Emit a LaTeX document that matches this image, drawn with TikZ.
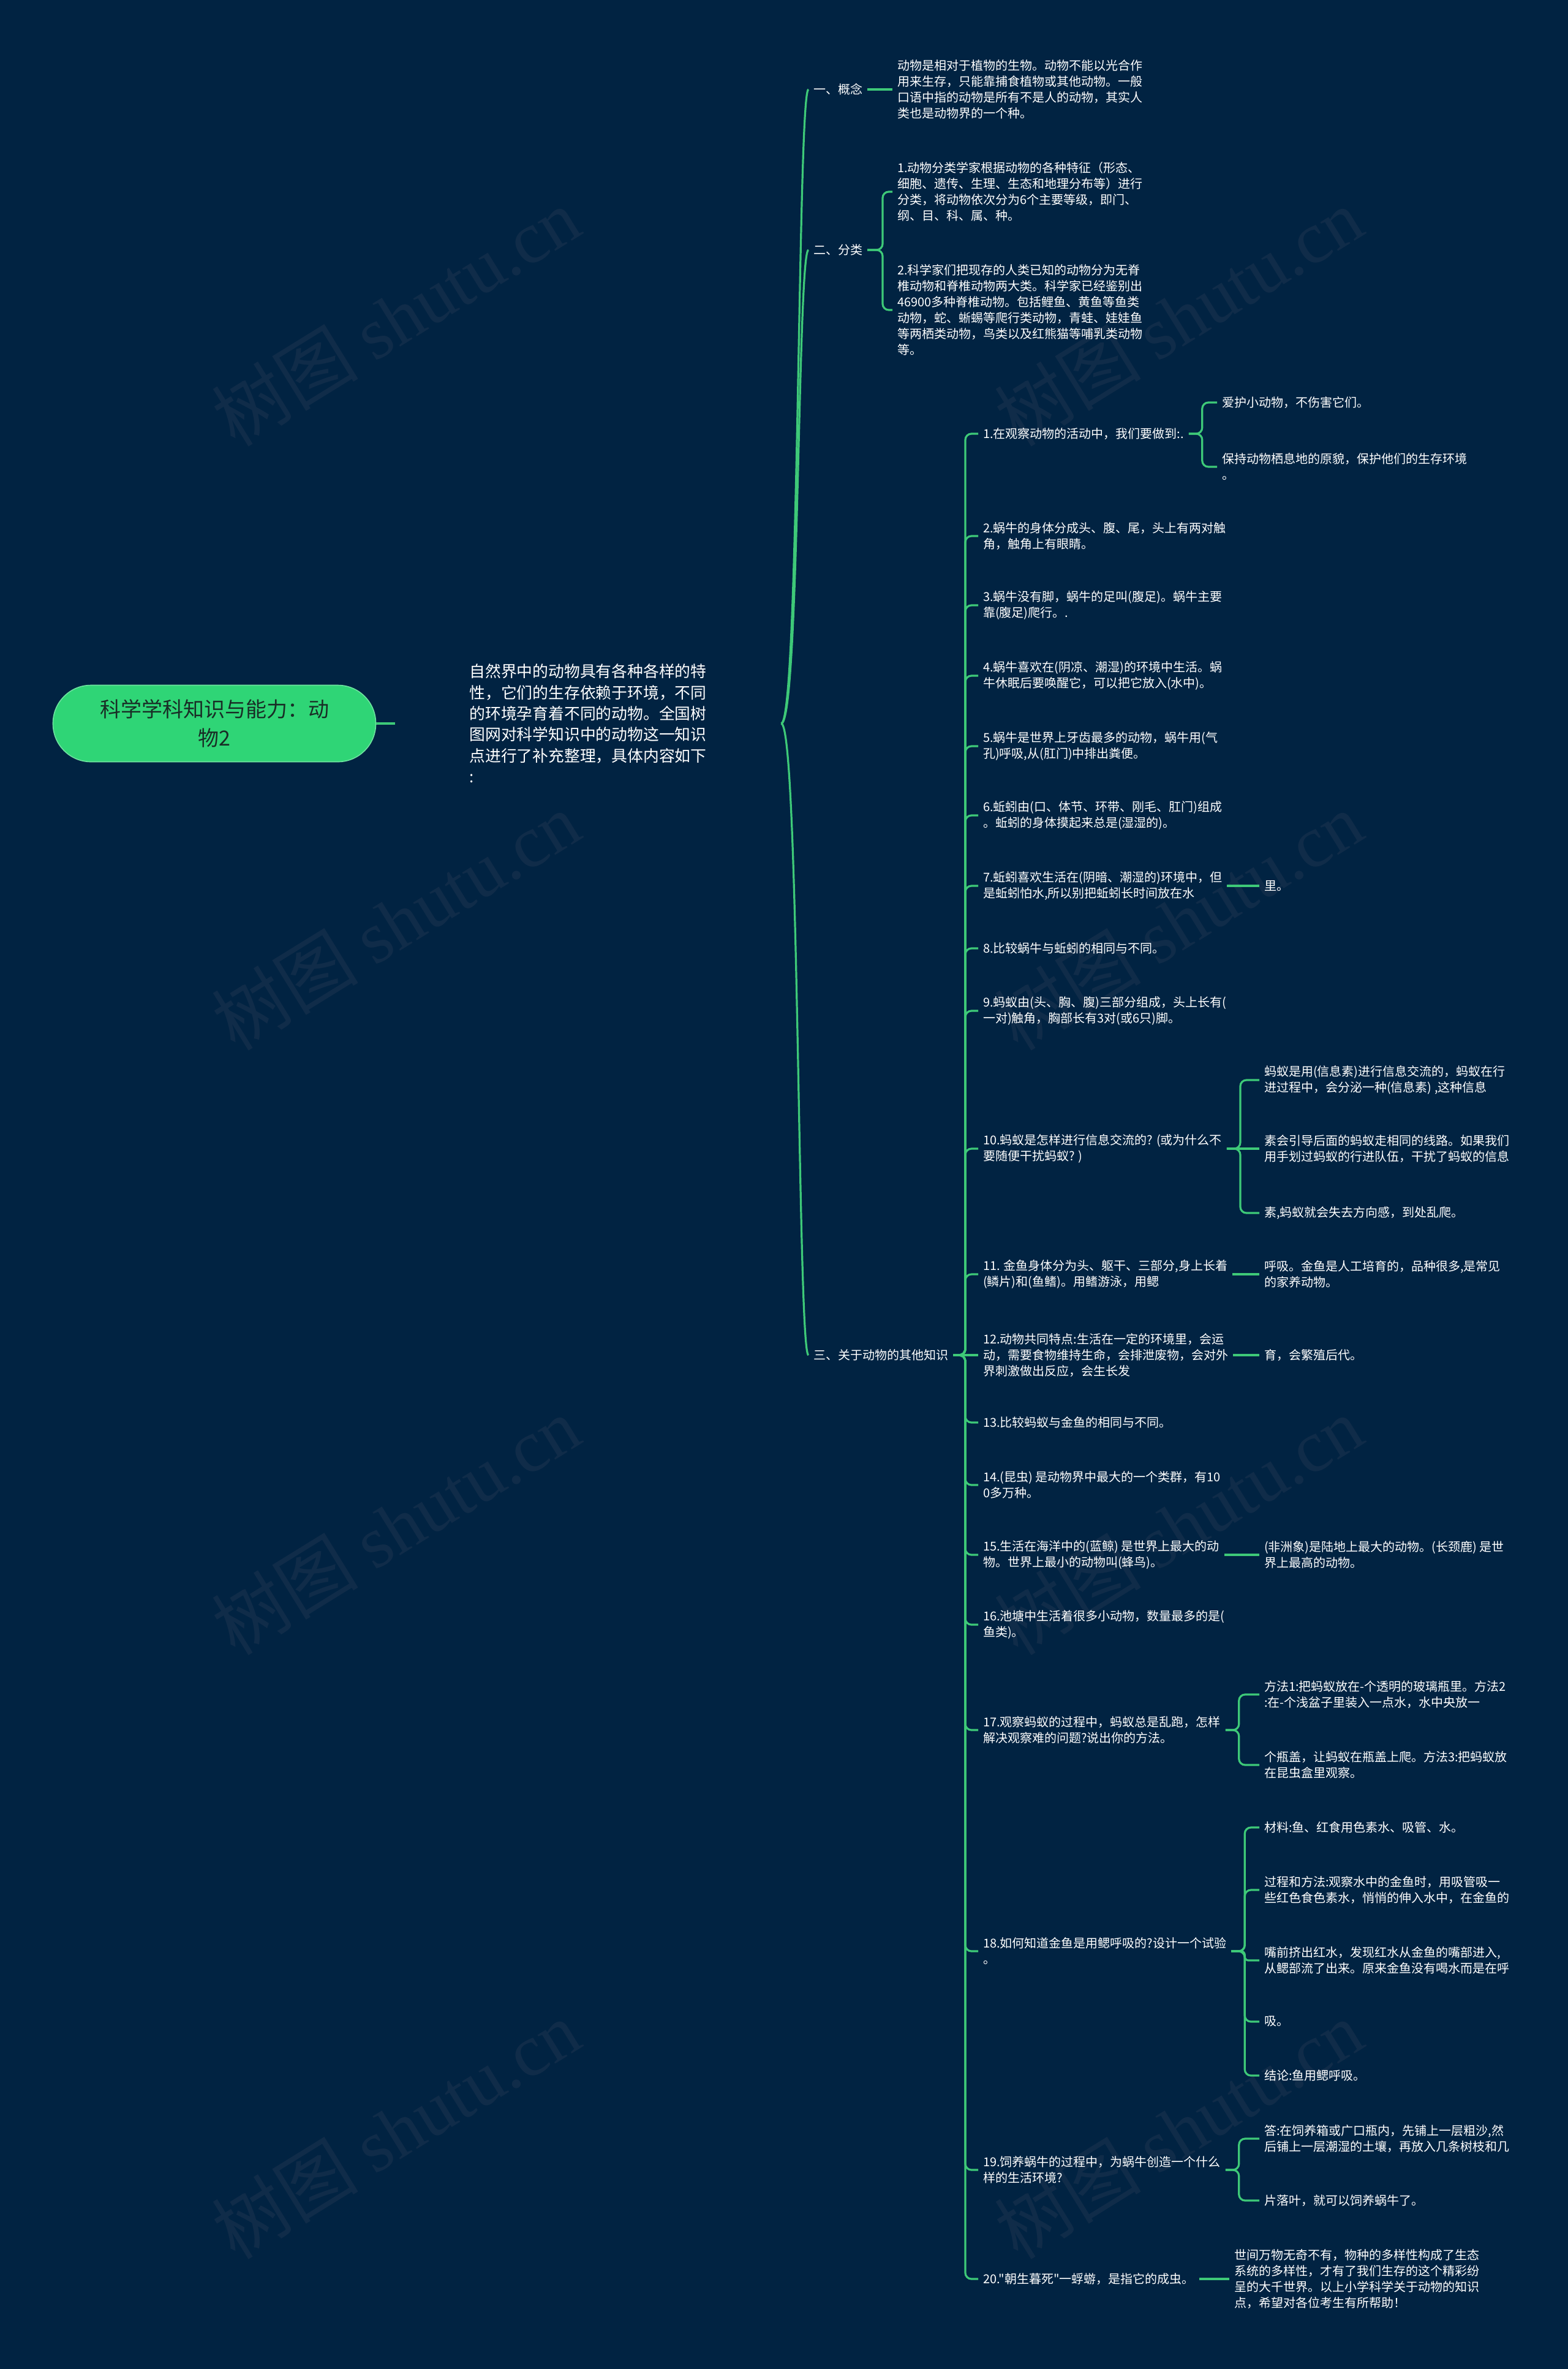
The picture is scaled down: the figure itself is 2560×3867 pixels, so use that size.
\documentclass[tikz,border=0pt]{standalone}
\usepackage{fontspec}
\setmainfont{Noto Sans CJK SC}
\newfontfamily\plaincjk{Noto Sans CJK SC}
\newfontfamily\wmlatin{Liberation Serif}
\usetikzlibrary{positioning}

\definecolor{bgnavy}{RGB}{1,35,66}
\definecolor{linkgreen}{RGB}{62,201,120}
\definecolor{rootgreen}{RGB}{47,213,118}
\definecolor{roottext}{RGB}{25,45,38}
\definecolor{wmark}{RGB}{16,44,73}

\begin{document}
\begin{tikzpicture}[x=0.5pt, y=-0.5pt,
        root/.style={draw=rootgreen!70!white, fill=rootgreen, line width=0.8pt, rounded corners=31pt, minimum width=263.5pt, minimum height=62.5pt, align=center, text=roottext, font=\fontsize{17}{23.5}\selectfont},
        intro/.style={align=left, text=white, inner sep=0pt, minimum width=315pt, font=\fontsize{12.9}{17.2}\selectfont},
        txt/.style={anchor=west, inner sep=0pt, outer xsep=4pt, align=left, text=white, font=\fontsize{10}{13}\selectfont},
        link/.style={draw=linkgreen, line width=1.6pt, rounded corners=5pt},
        wm/.style={rotate=31.7, text=wmark, font=\fontsize{60}{60}\selectfont}
    ]
        \useasboundingbox (0,0) rectangle (2560,3867);
        \fill[bgnavy] (0,0) rectangle (2560,3867);

        % Watermarks
        \foreach \wx in {646,1924}
            \foreach \wy in {517,1503,2490,3476}
                \node[wm] at (\wx,\wy) {树图 {\wmlatin shutu.cn}};

        % Root and intro
        \node[root] (root) at (350,1181) {科学学科知识与能力：动\\物2};
        \node[intro] (intro) at (960,1181) {自然界中的动物具有各种各样的特\\性，它们的生存依赖于环境，不同\\的环境孕育着不同的动物。全国树\\图网对科学知识中的动物这一知识\\点进行了补充整理，具体内容如下\\:};

        % Level 1
        \node[txt] (gainian) at (1320,146) {一、概念};
        \node[txt] (fenlei) at (1320,408) {二、分类};
        \node[txt] (qita) at (1320,2212) {三、关于动物的其他知识};

        \node[txt] (gainian1) at (1457,146) {动物是相对于植物的生物。动物不能以光合作\\用来生存，只能靠捕食植物或其他动物。一般\\口语中指的动物是所有不是人的动物，其实人\\类也是动物界的一个种。};
        \node[txt] (fenlei1) at (1457,313) {1.动物分类学家根据动物的各种特征（形态、\\细胞、遗传、生理、生态和地理分布等）进行\\分类，将动物依次分为6个主要等级，即门、\\纲、目、科、属、种。};
        \node[txt] (fenlei2) at (1457,506) {2.科学家们把现存的人类已知的动物分为无脊\\椎动物和脊椎动物两大类。科学家已经鉴别出\\46900多种脊椎动物。包括鲤鱼、黄鱼等鱼类\\动物，蛇、蜥蜴等爬行类动物，青蛙、娃娃鱼\\等两栖类动物，鸟类以及红熊猫等哺乳类动物\\等。};

        % Level 2: other knowledge
        \node[txt] (q1) at (1597,708) {1.在观察动物的活动中，我们要做到:.};
        \node[txt] (q2) at (1597,875) {2.蜗牛的身体分成头、腹、尾，头上有两对触\\角，触角上有眼睛。};
        \node[txt] (q3) at (1597,988) {3.蜗牛没有脚，蜗牛的足叫(腹足)。蜗牛主要\\靠(腹足)爬行。.};
        \node[txt] (q4) at (1597,1103) {4.蜗牛喜欢在(阴凉、潮湿)的环境中生活。蜗\\牛休眠后要唤醒它，可以把它放入(水中)。};
        \node[txt] (q5) at (1597,1218) {5.蜗牛是世界上牙齿最多的动物，蜗牛用(气\\孔)呼吸,从(肛门)中排出粪便。};
        \node[txt] (q6) at (1597,1331) {6.蚯蚓由(口、体节、环带、刚毛、肛门)组成\\。蚯蚓的身体摸起来总是(湿湿的)。};
        \node[txt] (q7) at (1597,1446) {7.蚯蚓喜欢生活在(阴暗、潮湿的)环境中，但\\是蚯蚓怕水,所以别把蚯蚓长时间放在水};
        \node[txt] (q8) at (1597,1548) {8.比较蜗牛与蚯蚓的相同与不同。};
        \node[txt] (q9) at (1597,1650) {9.蚂蚁由(头、胸、腹)三部分组成，头上长有(\\一对)触角，胸部长有3对(或6只)脚。};
        \node[txt] (q10) at (1597,1875) {10.蚂蚁是怎样进行信息交流的? (或为什么不\\要随便干扰蚂蚁? )};
        \node[txt] (q11) at (1597,2080) {11. 金鱼身体分为头、躯干、三部分,身上长着\\(鳞片)和(鱼鳍)。用鳍游泳，用鳃};
        \node[txt] (q12) at (1597,2212) {12.动物共同特点:生活在一定的环境里，会运\\动，需要食物维持生命，会排泄废物，会对外\\界刺激做出反应，会生长发};
        \node[txt] (q13) at (1597,2322) {13.比较蚂蚁与金鱼的相同与不同。};
        \node[txt] (q14) at (1597,2424) {14.(昆虫) 是动物界中最大的一个类群，有10\\0多万种。};
        \node[txt] (q15) at (1597,2538) {15.生活在海洋中的(蓝鲸) 是世界上最大的动\\物。世界上最小的动物叫(蜂鸟)。};
        \node[txt] (q16) at (1597,2652) {16.池塘中生活着很多小动物，数量最多的是(\\鱼类)。};
        \node[txt] (q17) at (1597,2824) {17.观察蚂蚁的过程中，蚂蚁总是乱跑，怎样\\解决观察难的问题?说出你的方法。};
        \node[txt] (q18) at (1597,3185) {18.如何知道金鱼是用鳃呼吸的?设计一个试验\\。};
        \node[txt] (q19) at (1597,3542) {19.饲养蜗牛的过程中，为蜗牛创造一个什么\\样的生活环境?};
        \node[txt] (q20) at (1597,3720) {\plaincjk 20."朝生暮死"一蜉蝣，是指它的成虫。};

        % Level 3
        \node[txt] (q1a) at (1987,657) {爱护小动物，不伤害它们。};
        \node[txt] (q1b) at (1987,762) {保持动物栖息地的原貌，保护他们的生存环境\\。};
        \node[txt] (q7a) at (2056,1446) {里。};
        \node[txt] (q10a) at (2056,1763) {蚂蚁是用(信息素)进行信息交流的，蚂蚁在行\\进过程中，会分泌一种(信息素) ,这种信息};
        \node[txt] (q10b) at (2056,1875) {素会引导后面的蚂蚁走相同的线路。如果我们\\用手划过蚂蚁的行进队伍，干扰了蚂蚁的信息};
        \node[txt] (q10c) at (2056,1980) {素,蚂蚁就会失去方向感，到处乱爬。};
        \node[txt] (q11a) at (2056,2080) {呼吸。金鱼是人工培育的，品种很多,是常见\\的家养动物。};
        \node[txt] (q12a) at (2056,2212) {育，会繁殖后代。};
        \node[txt] (q15a) at (2056,2538) {(非洲象)是陆地上最大的动物。(长颈鹿) 是世\\界上最高的动物。};
        \node[txt] (q17a) at (2056,2766) {方法1:把蚂蚁放在-个透明的玻璃瓶里。方法2\\:在-个浅盆子里装入一点水，水中央放一};
        \node[txt] (q17b) at (2056,2881) {个瓶盖，让蚂蚁在瓶盖上爬。方法3:把蚂蚁放\\在昆虫盒里观察。};
        \node[txt] (q18a) at (2056,2983) {材料:鱼、红食用色素水、吸管、水。};
        \node[txt] (q18b) at (2056,3085) {过程和方法:观察水中的金鱼时，用吸管吸一\\些红色食色素水，悄悄的伸入水中，在金鱼的};
        \node[txt] (q18c) at (2056,3200) {嘴前挤出红水，发现红水从金鱼的嘴部进入,\\从鳃部流了出来。原来金鱼没有喝水而是在呼};
        \node[txt] (q18d) at (2056,3300) {吸。};
        \node[txt] (q18e) at (2056,3388) {结论:鱼用鳃呼吸。};
        \node[txt] (q19a) at (2056,3491) {答:在饲养箱或广口瓶内，先铺上一层粗沙,然\\后铺上一层潮湿的土壤，再放入几条树枝和几};
        \node[txt] (q19b) at (2056,3592) {片落叶，就可以饲养蜗牛了。};
        \node[txt] (q20a) at (2007,3720) {世间万物无奇不有，物种的多样性构成了生态\\系统的多样性，才有了我们生存的这个精彩纷\\呈的大千世界。以上小学科学关于动物的知识\\点，希望对各位考生有所帮助！};

        % Connectors
        \draw[link] (root.east) -- (intro.west);
        \foreach \kid in {gainian,fenlei,qita}
            \draw[link] (intro.east) .. controls +(30,0) and +(-18,0) .. (\kid.west);
        \draw[link] (gainian.east) -- (gainian1.west);
        \foreach \kid in {fenlei1,fenlei2}
            \draw[link] (fenlei.east) -- ++(25,0) |- (\kid.west);
        \foreach \i in {1,2,3,4,5,6,7,8,9,10,11,13,14,15,16,17,18,19,20}
            \draw[link] (qita.east) -- ++(20,0) |- (q\i.west);
        \draw[link] (qita.east) -- (q12.west);

        \foreach \kid in {q1a,q1b}
            \draw[link] (q1.east) -- ++(22,0) |- (\kid.west);
        \draw[link] (q7.east) -- (q7a.west);
        \foreach \kid in {q10a,q10c}
            \draw[link] (q10.east) -- ++(22,0) |- (\kid.west);
        \draw[link] (q10.east) -- (q10b.west);
        \draw[link] (q11.east) -- (q11a.west);
        \draw[link] (q12.east) -- (q12a.west);
        \draw[link] (q15.east) -- (q15a.west);
        \foreach \kid in {q17a,q17b}
            \draw[link] (q17.east) -- ++(22,0) |- (\kid.west);
        \foreach \kid in {q18a,q18b,q18d,q18e}
            \draw[link] (q18.east) -- ++(22,0) |- (\kid.west);
        \draw[link, rounded corners=3pt] (q18.east) -- ++(22,0) |- (q18c.west);
        \foreach \kid in {q19a,q19b}
            \draw[link] (q19.east) -- ++(22,0) |- (\kid.west);
        \draw[link] (q20.east) -- (q20a.west);

    \end{tikzpicture}
\end{document}
